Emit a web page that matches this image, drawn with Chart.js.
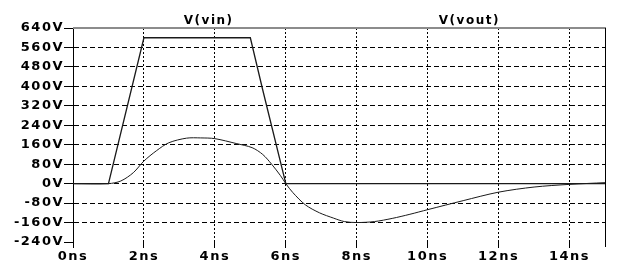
<!DOCTYPE html>
<html>
<head>
<meta charset="utf-8">
<script src="https://cdn.jsdelivr.net/npm/chart.js@4"></script>
<style>
  html, body { margin: 0; padding: 0; background: #fff; }
  #wrap { width: 623px; height: 266px; }
</style>
</head>
<body>
<div id="wrap"><canvas id="simChart"></canvas></div>
<script>
// transient sim, times in ns, volts in V
const vinTime = [0, 1, 2, 5, 5.35, 6, 15];
const vinVolt = [0, 0, 600, 600, 385, 0, 0];

const voutTime = [0, 1, 1.35, 1.7, 2, 2.35, 2.7, 3.2, 3.6, 4, 4.6, 5.05, 5.35, 5.6, 5.85, 6, 6.2, 6.55, 6.95, 7.35, 7.65, 8, 8.5, 9, 9.5, 10, 11, 12, 13, 14, 15];
const voutVolt = [0, 0, 11, 45, 93, 135, 168, 187, 188, 185, 165, 148, 120, 80, 33, 0, -37, -87, -120, -142, -156, -160, -156, -143, -126, -107, -70, -35, -14, -3, 4];

const seriesNames = ['V(vin)', 'V(vout)'];
const xTicks = [0, 2, 4, 6, 8, 10, 12, 14];
const yMin = -240, yMax = 640, yStep = 80;

const toPoints = (xs, ys) => xs.map((x, i) => ({ x: x, y: ys[i] }));

const tickFont = { family: 'DejaVu Sans', weight: 'bold', size: 13 };

// wide labels like the simulator's bitmap font
const spacingPlugin = {
  id: 'spacing',
  beforeDraw(chart) { chart.ctx.letterSpacing = '1.5px'; }
};

// frame + trace names
const framePlugin = {
  id: 'frame',
  afterDraw(chart) {
    const { ctx, chartArea } = chart;
    ctx.save();
    ctx.strokeStyle = '#8c8c8c';
    ctx.lineWidth = 2;
    ctx.beginPath();
    ctx.moveTo(chartArea.left, chartArea.top);
    ctx.lineTo(chartArea.right + 1, chartArea.top);
    ctx.stroke();
    ctx.strokeStyle = '#000';
    ctx.lineWidth = 1;
    ctx.beginPath();
    ctx.moveTo(chartArea.right + 0.5, chartArea.top);
    ctx.lineTo(chartArea.right + 0.5, chartArea.bottom + 5);
    ctx.stroke();
    ctx.fillStyle = '#000';
    ctx.font = 'bold 12px "DejaVu Sans"';
    ctx.textAlign = 'center';
    ctx.textBaseline = 'middle';
    const w = chartArea.right - chartArea.left;
    ctx.fillText(seriesNames[0], chartArea.left + w * 0.255, chartArea.top - 7);
    ctx.fillText(seriesNames[1], chartArea.left + w * 0.745, chartArea.top - 7);
    ctx.restore();
  }
};

const ctx = document.getElementById('simChart').getContext('2d');
const simChart = new Chart(ctx, {
  type: 'line',
  data: {
    datasets: [
      {
        label: seriesNames[0],
        data: toPoints(vinTime, vinVolt),
        borderColor: '#1a1a1a',
        borderWidth: 1.3,
        pointRadius: 0,
        tension: 0
      },
      {
        label: seriesNames[1],
        data: toPoints(voutTime, voutVolt),
        borderColor: '#1a1a1a',
        borderWidth: 1,
        pointRadius: 0,
        tension: 0.3
      }
    ]
  },
  options: {
    responsive: true,
    maintainAspectRatio: false,
    animation: false,
    layout: { padding: { top: 28, right: 18, left: 0, bottom: 0 } },
    plugins: {
      legend: { display: false },
      tooltip: { enabled: false }
    },
    scales: {
      x: {
        type: 'linear',
        min: 0,
        max: 15,
        afterBuildTicks: (scale) => { scale.ticks = xTicks.map(v => ({ value: v })); },
        ticks: {
          includeBounds: false,
          color: '#000',
          font: tickFont,
          padding: 1,
          maxRotation: 0,
          callback: (v) => v + 'ns'
        },
        grid: {
          color: (c) => (c.tick && c.tick.value === 0) ? 'rgba(0,0,0,0)' : '#000',
          tickColor: '#000',
          tickLength: 6,
          lineWidth: 1
        },
        border: { display: false, dash: [2, 2] },
        afterFit: (scale) => { scale.height = 24; }
      },
      y: {
        min: yMin,
        max: yMax,
        ticks: {
          stepSize: yStep,
          color: '#000',
          font: tickFont,
          padding: 0,
          callback: (v) => v + 'V'
        },
        grid: {
          color: (c) => (c.tick && (c.tick.value === yMin || c.tick.value === yMax)) ? 'rgba(0,0,0,0)' : '#000',
          tickColor: '#000',
          tickLength: 9,
          lineWidth: 1
        },
        border: { display: true, color: '#000', width: 1, dash: [5, 3] },
        afterFit: (scale) => { scale.width = 73; }
      }
    }
  },
  plugins: [spacingPlugin, framePlugin]
});
</script>
</body>
</html>
